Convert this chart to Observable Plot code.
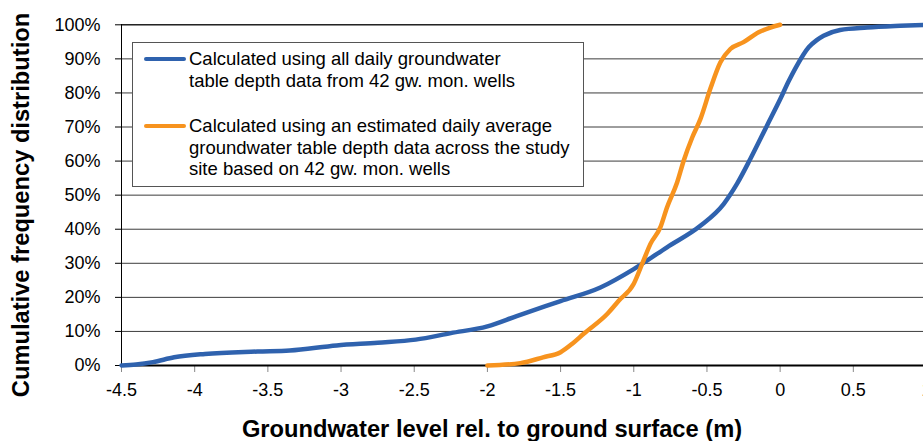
<!DOCTYPE html>
<html><head><meta charset="utf-8">
<script src="https://cdn.jsdelivr.net/npm/d3@7"></script>
<script src="https://cdn.jsdelivr.net/npm/@observablehq/plot@0.6"></script>
<style>
body{margin:0;background:#fff;}
#wrap{position:relative;width:923px;height:441px;overflow:hidden;font-family:"Liberation Sans",Arial,sans-serif;color:#000;}
#wrap svg{position:absolute;left:0;top:0;}
.ytitle{position:absolute;left:22px;top:205px;transform:translate(-50%,-50%) rotate(-90deg);white-space:nowrap;font-weight:bold;font-size:23.7px;line-height:1;}
.xtitle{position:absolute;left:492px;top:418px;transform:translateX(-50%);white-space:nowrap;font-weight:bold;font-size:23.7px;line-height:1;}
.legend{position:absolute;left:132px;top:42px;width:450px;height:143px;background:#fff;border:1px solid #555;box-sizing:content-box;}
.item{position:absolute;left:56px;font-size:18.5px;line-height:21.7px;white-space:nowrap;}
.swatch{position:absolute;left:11px;width:42px;height:4.5px;border-radius:3px;}
</style></head><body><div id="wrap"></div>
<script>
const xTicks = [-4.5, -4, -3.5, -3, -2.5, -2, -1.5, -1, -0.5, 0, 0.5, 1];
const yTicks = [0, 0.1, 0.2, 0.3, 0.4, 0.5, 0.6, 0.7, 0.8, 0.9, 1.0];
const seriesNames = [
  "Calculated using all daily groundwater\ntable depth data from 42 gw. mon. wells",
  "Calculated using an estimated daily average\ngroundwater table depth data across the study\nsite based on 42 gw. mon. wells"
];
const seriesColors = ["#2F62AE", "#F7931E"];
const xTitle = "Groundwater level rel. to ground surface (m)";
const yTitle = "Cumulative frequency distribution";

// Blue: all daily data (x in m, y in %)
const blueX = [-4.5, -4.4, -4.285, -4.14, -3.93, -3.57, -3.35, -3.03, -2.75, -2.49, -2.25, -2.0, -1.8, -1.5, -1.228, -1.0, -0.773, -0.545, -0.386, -0.295, -0.204, -0.09, 0.001, 0.058, 0.104, 0.195, 0.25, 0.297, 0.41, 0.594, 0.82, 1.0];
const blueY = [0, 0.3, 1.0, 2.4, 3.4, 4.1, 4.4, 5.9, 6.7, 7.6, 9.5, 11.5, 14.5, 18.9, 22.9, 28.3, 34.7, 41.0, 47.4, 53.3, 60.6, 70.4, 78.2, 83.4, 87.2, 93.4, 95.5, 96.8, 98.5, 99.2, 99.7, 100];
// Orange: estimated daily average
const orangeX = [-2.0, -1.775, -1.62, -1.5, -1.42, -1.34, -1.18, -1.103, -1.0, -0.943, -0.886, -0.818, -0.773, -0.704, -0.659, -0.6, -0.545, -0.477, -0.408, -0.34, -0.25, -0.147, -0.067, 0.0];
const orangeY = [0, 0.7, 2.4, 3.9, 6.4, 9.4, 15.2, 19.0, 24.0, 29.8, 35.7, 40.6, 46.4, 53.7, 60.1, 67.0, 72.3, 81.2, 89.0, 92.9, 94.9, 97.8, 99.2, 100];

const blue = blueX.map((x, i) => ({x, y: blueY[i] / 100}));
const orange = orangeX.map((x, i) => ({x, y: orangeY[i] / 100}));

const chart = Plot.plot({
  width: 923, height: 441,
  marginLeft: 121, marginRight: 0, marginTop: 24, marginBottom: 76,
  style: {fontFamily: '"Liberation Sans", Arial, sans-serif', background: "white"},
  x: {domain: [-4.5, 1], range: [121, 926]},
  y: {domain: [0, 1], range: [365, 24.3]},
  marks: [
    Plot.gridY(yTicks.filter(d => d > 0), {stroke: "#3c3c3c", strokeOpacity: 1, strokeWidth: 1}),
    Plot.ruleY([1], {stroke: "#000"}),
    Plot.axisY(yTicks, {tickSize: 6, tickPadding: 15, tickFormat: d3.format(".0%"), fontSize: 18, stroke: "#000", label: null}),
    Plot.axisX(xTicks, {tickSize: 7, tickPadding: 11, tickFormat: d => String(d), fontSize: 18, stroke: "#888", fill: "#000", label: null}),
    Plot.ruleX([-4.5], {stroke: "#000", strokeWidth: 1}),
    Plot.ruleY([0], {stroke: "#000", strokeWidth: 2}),
    Plot.line(blue, {x: "x", y: "y", stroke: seriesColors[0], strokeWidth: 4.5, curve: "monotone-x"}),
    Plot.line(orange, {x: "x", y: "y", stroke: seriesColors[1], strokeWidth: 4.5, curve: "monotone-x"})
  ]
});

const wrap = document.getElementById("wrap");
wrap.appendChild(chart);

const yt = document.createElement("div"); yt.className = "ytitle"; yt.textContent = yTitle; wrap.appendChild(yt);
const xt = document.createElement("div"); xt.className = "xtitle"; xt.textContent = xTitle; wrap.appendChild(xt);

const lg = document.createElement("div"); lg.className = "legend";
const tops = [5, 72];
seriesNames.forEach((name, i) => {
  const it = document.createElement("div"); it.className = "item"; it.style.top = tops[i] + "px";
  name.split("\n").forEach((line, j) => {
    const d = document.createElement("div"); d.textContent = line; it.appendChild(d);
  });
  const sw = document.createElement("div"); sw.className = "swatch";
  sw.style.background = seriesColors[i]; sw.style.top = (tops[i] + 8.5) + "px";
  lg.appendChild(sw);
  lg.appendChild(it);
});
wrap.appendChild(lg);
</script>
</body></html>
